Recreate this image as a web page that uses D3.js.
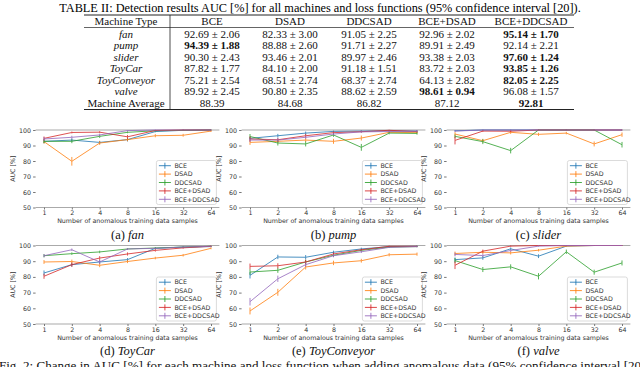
<!DOCTYPE html>
<html>
<head>
<meta charset="UTF-8">
<title>AUC results</title>
<script src="https://d3js.org/d3.v7.min.js"></script>
<style>
  body { margin: 0; background: #fff; }
  svg { display: block; }
</style>
</head>
<body>
<div id="chart"></div>
<script>
// ---- table data ----
const tableHeader = ["Machine Type", "BCE", "DSAD", "DDCSAD", "BCE+DSAD", "BCE+DDCSAD"];
const tableRows = ["fan", "pump", "slider", "ToyCar", "ToyConveyor", "valve"];
const tableMeans = [
  [92.69, 82.33, 91.05, 92.96, 95.14],
  [94.39, 88.88, 91.71, 89.91, 92.14],
  [90.30, 93.46, 89.97, 93.38, 97.60],
  [87.82, 84.10, 91.18, 83.72, 93.85],
  [75.21, 68.51, 68.37, 64.13, 82.05],
  [89.92, 90.80, 88.62, 98.61, 96.08]
];
const tableCI = [
  [2.06, 3.00, 2.25, 2.02, 1.70],
  [1.88, 2.60, 2.27, 2.49, 2.21],
  [2.43, 2.01, 2.46, 2.03, 1.24],
  [1.77, 2.00, 1.51, 2.03, 1.26],
  [2.54, 2.74, 2.74, 2.82, 2.25],
  [2.45, 2.35, 2.59, 0.94, 1.57]
];
const machineAverage = [88.39, 84.68, 86.82, 87.12, 92.81];

// ---- chart data ----
const samples = [1, 2, 4, 8, 16, 32, 64];
const methods = ["BCE", "DSAD", "DDCSAD", "BCE+DSAD", "BCE+DDCSAD"];
const colors = ["#1f77b4", "#ff7f0e", "#2ca02c", "#d62728", "#9467bd"];
const aucTicks = [50, 60, 70, 80, 90, 100];

// rows: BCE, DSAD, DDCSAD, BCE+DSAD, BCE+DDCSAD
const fanAUC = [
  [92.7, 93.5, 92.0, 93.8, 99.0, 99.8, 100],
  [92.5, 79.8, 91.6, 93.8, 96.3, 96.6, 99.3],
  [92.7, 92.7, 95.9, 98.5, 99.5, 99.8, 100],
  [94.6, 98.4, 98.6, 95.6, 99.7, 100, 100],
  [94.2, 95.3, 96.8, 99.6, 100, 100, 100]
];
const fanErr = [
  [1.2, 1.0, 1.0, 1.2, 0.5, 0.3, 0.2],
  [1.2, 2.8, 1.2, 1.0, 1.0, 0.9, 0.6],
  [1.2, 1.2, 1.0, 0.6, 0.4, 0.3, 0.2],
  [1.2, 0.6, 0.6, 1.2, 0.3, 0.2, 0.2],
  [1.2, 1.0, 0.8, 0.4, 0.2, 0.2, 0.2]
];
const pumpAUC = [
  [94.6, 96.3, 98.0, 99.1, 99.3, 99.5, 99.3],
  [92.0, 92.7, 93.5, 92.7, 94.8, 98.5, 98.3],
  [95.8, 91.6, 91.0, 96.8, 88.8, 98.0, 97.8],
  [94.2, 93.7, 96.3, 98.3, 98.9, 99.8, 99.0],
  [93.5, 93.5, 95.3, 97.4, 98.8, 99.0, 99.2]
];
const pumpErr = [
  [1.0, 1.2, 1.0, 0.5, 0.4, 0.4, 0.5],
  [1.6, 1.2, 1.2, 1.6, 1.6, 0.6, 0.6],
  [1.6, 1.6, 1.6, 1.2, 2.2, 0.8, 0.8],
  [1.6, 1.2, 1.2, 0.8, 0.6, 0.3, 0.6],
  [1.2, 1.2, 1.0, 0.8, 0.6, 0.5, 0.5]
];
const sliderAUC = [
  [99.5, 100, 100, 100, 100, 100, 100],
  [97.4, 93.1, 98.5, 97.2, 98.0, 91.0, 97.0],
  [95.9, 92.5, 86.7, 100, 100, 100, 90.5],
  [93.3, 99.3, 99.2, 100, 100, 100, 100],
  [99.3, 100, 100, 100, 100, 100, 100]
];
const sliderErr = [
  [0.4, 0.2, 0.2, 0.2, 0.2, 0.2, 0.2],
  [1.2, 1.2, 1.0, 1.0, 0.8, 1.6, 1.4],
  [1.2, 1.6, 1.8, 0.2, 0.2, 0.2, 1.8],
  [2.6, 0.6, 0.6, 0.2, 0.2, 0.2, 0.2],
  [0.5, 0.2, 0.2, 0.2, 0.2, 0.2, 0.2]
];
const toyCarAUC = [
  [82.5, 87.8, 89.5, 91.0, 98.2, 99.0, 99.3],
  [89.5, 89.8, 87.4, 89.8, 92.0, 93.8, 98.2],
  [93.5, 94.8, 95.9, 97.8, 98.4, 99.0, 99.5],
  [80.4, 87.8, 92.0, 94.6, 96.9, 98.5, 99.5],
  [93.5, 97.3, 89.5, 97.8, 98.2, 99.0, 99.5]
];
const toyCarErr = [
  [1.6, 1.2, 1.2, 1.0, 0.6, 0.4, 0.4],
  [1.2, 1.2, 1.2, 1.0, 0.8, 0.8, 0.6],
  [1.0, 0.8, 0.8, 0.5, 0.4, 0.4, 0.3],
  [1.6, 1.4, 1.2, 1.0, 0.8, 0.5, 0.4],
  [1.0, 0.8, 1.2, 0.5, 0.4, 0.4, 0.3]
];
const toyConveyorAUC = [
  [81.0, 92.7, 92.5, 95.7, 97.8, 99.3, 99.5],
  [58.3, 70.2, 86.3, 88.9, 90.3, 94.1, 94.5],
  [83.1, 84.2, 89.5, 93.8, 96.9, 99.0, 99.3],
  [86.7, 87.1, 89.5, 94.6, 97.3, 99.5, 99.5],
  [64.2, 78.8, 87.8, 93.5, 96.0, 98.8, 99.3]
];
const toyConveyorErr = [
  [2.0, 1.4, 1.4, 1.0, 0.8, 0.4, 0.4],
  [2.2, 2.2, 1.6, 1.4, 1.2, 1.0, 1.0],
  [1.8, 1.6, 1.4, 1.0, 0.8, 0.4, 0.4],
  [1.8, 1.6, 1.4, 1.0, 0.6, 0.3, 0.3],
  [2.4, 2.0, 1.4, 1.0, 0.8, 0.4, 0.4]
];
const valveAUC = [
  [91.0, 92.1, 97.9, 93.2, 99.6, 100, 100],
  [94.9, 95.7, 95.3, 97.0, 99.6, 100, 100],
  [90.4, 84.7, 86.4, 80.4, 96.0, 83.0, 88.9],
  [87.4, 96.4, 99.6, 100, 100, 100, 100],
  [94.3, 93.6, 96.8, 99.6, 100, 100, 100]
];
const valveErr = [
  [1.4, 1.2, 0.8, 1.2, 0.3, 0.2, 0.2],
  [1.2, 1.0, 1.0, 0.8, 0.3, 0.2, 0.2],
  [1.6, 1.6, 1.6, 2.0, 1.4, 1.6, 1.6],
  [2.4, 1.0, 0.4, 0.2, 0.2, 0.2, 0.2],
  [1.2, 1.2, 0.8, 0.4, 0.2, 0.2, 0.2]
];

const W = 640, H = 367;
const svg = d3.select("#chart").append("svg")
  .attr("width", W).attr("height", H)
  .attr("viewBox", `0 0 ${W} ${H}`);

const serif = "'Liberation Serif', 'DejaVu Serif', serif";
const sans = "'DejaVu Sans', sans-serif";

// ---------------- table ----------------
svg.append("text")
  .attr("x", 320).attr("y", 12)
  .attr("text-anchor", "middle")
  .attr("font-family", serif).attr("font-size", 12.3)
  .text("TABLE II: Detection results AUC [%] for all machines and loss functions (95% confidence interval [20]).");

const colX = [126, 212, 290, 369, 447, 531];
const tLeft = 84, tRight = 574, tSep = 170;
const rowY = [21, 34, 45.5, 57, 68.5, 80, 91.5, 103];
const rules = [15, 27.5, 109.5];

const table = svg.append("g")
  .attr("font-family", serif).attr("font-size", 11)
  .attr("fill", "#111");

rules.forEach((ry, i) => {
  table.append("line")
    .attr("x1", tLeft).attr("x2", tRight)
    .attr("y1", ry).attr("y2", ry)
    .attr("stroke", "#222").attr("stroke-width", i === 1 ? 0.7 : 1);
});
table.append("line")
  .attr("x1", tSep).attr("x2", tSep)
  .attr("y1", rules[0]).attr("y2", rules[2])
  .attr("stroke", "#222").attr("stroke-width", 0.8);

tableHeader.forEach((h, j) => {
  table.append("text")
    .attr("x", colX[j]).attr("y", rowY[0])
    .attr("dy", "0.35em").attr("text-anchor", "middle")
    .text(h);
});

tableRows.forEach((name, i) => {
  const y = rowY[i + 1];
  table.append("text")
    .attr("x", colX[0]).attr("y", y).attr("dy", "0.35em")
    .attr("text-anchor", "middle").attr("font-style", "italic")
    .text(name);
  const best = d3.maxIndex(tableMeans[i]);
  tableMeans[i].forEach((m, j) => {
    table.append("text")
      .attr("x", colX[j + 1]).attr("y", y).attr("dy", "0.35em")
      .attr("text-anchor", "middle")
      .attr("font-weight", j === best ? "bold" : "normal")
      .text(`${m.toFixed(2)} ± ${tableCI[i][j].toFixed(2)}`);
  });
});

const avgY = rowY[rowY.length - 1];
table.append("text")
  .attr("x", colX[0]).attr("y", avgY).attr("dy", "0.35em")
  .attr("text-anchor", "middle").text("Machine Average");
const bestAvg = d3.maxIndex(machineAverage);
machineAverage.forEach((m, j) => {
  table.append("text")
    .attr("x", colX[j + 1]).attr("y", avgY).attr("dy", "0.35em")
    .attr("text-anchor", "middle")
    .attr("font-weight", j === bestAvg ? "bold" : "normal")
    .text(m.toFixed(2));
});

// ---------------- small charts ----------------
const panels = [
  { tag: "(a)", name: "fan", auc: fanAUC, err: fanErr, x0: 44, top: 130, bottom: 207.5 },
  { tag: "(b)", name: "pump", auc: pumpAUC, err: pumpErr, x0: 250, top: 130, bottom: 207.5 },
  { tag: "(c)", name: "slider", auc: sliderAUC, err: sliderErr, x0: 455, top: 130, bottom: 207.5 },
  { tag: "(d)", name: "ToyCar", auc: toyCarAUC, err: toyCarErr, x0: 44, top: 245.5, bottom: 324 },
  { tag: "(e)", name: "ToyConveyor", auc: toyConveyorAUC, err: toyConveyorErr, x0: 250, top: 245.5, bottom: 324 },
  { tag: "(f)", name: "valve", auc: valveAUC, err: valveErr, x0: 455, top: 245.5, bottom: 324 }
];

const span = 167;
const pad = 8.4;

panels.forEach(p => {
  const x = d3.scaleLog().base(2).domain([1, 64]).range([p.x0, p.x0 + span]);
  const y = d3.scaleLinear().domain([50, 100]).range([p.bottom, p.top]);
  const left = p.x0 - pad, right = p.x0 + span + pad;
  const g = svg.append("g").attr("font-family", sans);

  // frame lines (top / bottom)
  [p.top, p.bottom].forEach(v => {
    g.append("line")
      .attr("x1", left).attr("x2", right)
      .attr("y1", v).attr("y2", v)
      .attr("stroke", "#aaa").attr("stroke-width", 1.1);
  });

  const yAxis = g.append("g")
    .attr("transform", `translate(${left},0)`)
    .call(d3.axisLeft(y).tickValues(aucTicks).tickSize(2.5).tickPadding(2));
  yAxis.select(".domain").remove();
  yAxis.selectAll("line").attr("stroke", "#777");
  yAxis.selectAll("text").attr("font-size", 6.3).attr("fill", "#333").attr("font-family", sans);

  const xAxis = g.append("g")
    .attr("transform", `translate(0,${p.bottom})`)
    .call(d3.axisBottom(x).tickValues(samples).tickFormat(d3.format("d")).tickSize(2).tickPadding(1.5));
  xAxis.select(".domain").remove();
  xAxis.selectAll("line").attr("stroke", "#777");
  xAxis.selectAll("text").attr("font-size", 6.3).attr("fill", "#333").attr("font-family", sans);

  g.append("text")
    .attr("x", (left + right) / 2).attr("y", p.bottom + 15.5)
    .attr("text-anchor", "middle")
    .attr("font-size", 6.3).attr("fill", "#333")
    .text("Number of anomalous training data samples");

  g.append("text")
    .attr("transform", `translate(${left - 20.5},${(p.top + p.bottom) / 2}) rotate(-90)`)
    .attr("text-anchor", "middle")
    .attr("font-size", 6.3).attr("fill", "#333")
    .text("AUC [%]");

  const line = d3.line().x((d, i) => x(samples[i])).y(d => y(d));

  methods.forEach((m, k) => {
    const s = g.append("g")
      .attr("stroke", colors[k]).attr("opacity", 0.8).attr("fill", "none");
    s.append("path")
      .attr("d", line(p.auc[k]))
      .attr("stroke-width", 1);
    s.selectAll("line.err")
      .data(p.auc[k])
      .join("line")
      .attr("class", "err")
      .attr("x1", (d, i) => x(samples[i]))
      .attr("x2", (d, i) => x(samples[i]))
      .attr("y1", (d, i) => y(Math.min(100.4, d + p.err[k][i])))
      .attr("y2", (d, i) => y(d - p.err[k][i]))
      .attr("stroke-width", 1);
  });

  // legend
  const lw = 60, lh = 44;
  const lx = right - 3 - lw, ly = p.bottom - 3 - lh;
  const leg = g.append("g").attr("transform", `translate(${lx},${ly})`);
  leg.append("rect")
    .attr("width", lw).attr("height", lh)
    .attr("rx", 2)
    .attr("fill", "#fff").attr("fill-opacity", 0.85)
    .attr("stroke", "#ccc").attr("stroke-width", 0.7);
  methods.forEach((m, k) => {
    const ey = 5.2 + k * 8.4;
    leg.append("line")
      .attr("x1", 2.5).attr("x2", 14.5).attr("y1", ey).attr("y2", ey)
      .attr("stroke", colors[k]).attr("stroke-width", 1).attr("opacity", 0.85);
    leg.append("line")
      .attr("x1", 8.5).attr("x2", 8.5).attr("y1", ey - 3).attr("y2", ey + 3)
      .attr("stroke", colors[k]).attr("stroke-width", 1).attr("opacity", 0.85);
    leg.append("text")
      .attr("x", 18).attr("y", ey).attr("dy", "0.35em")
      .attr("font-size", 6.3).attr("fill", "#333")
      .text(m);
  });

  // caption under panel
  const cap = svg.append("text")
    .attr("x", (left + right) / 2).attr("y", p.bottom + 31)
    .attr("text-anchor", "middle")
    .attr("font-family", serif).attr("font-size", 12.5).attr("fill", "#111");
  cap.append("tspan").text(p.tag + " ");
  cap.append("tspan").attr("font-style", "italic").text(p.name);
});

// figure caption (cut by the page edges, as in the source)
svg.append("text")
  .attr("x", 326).attr("y", 370)
  .attr("text-anchor", "middle")
  .attr("font-family", serif).attr("font-size", 13.1).attr("fill", "#111")
  .text("Fig. 2: Change in AUC [%] for each machine and loss function when adding anomalous data (95% confidence interval [20]).");
</script>
</body>
</html>
